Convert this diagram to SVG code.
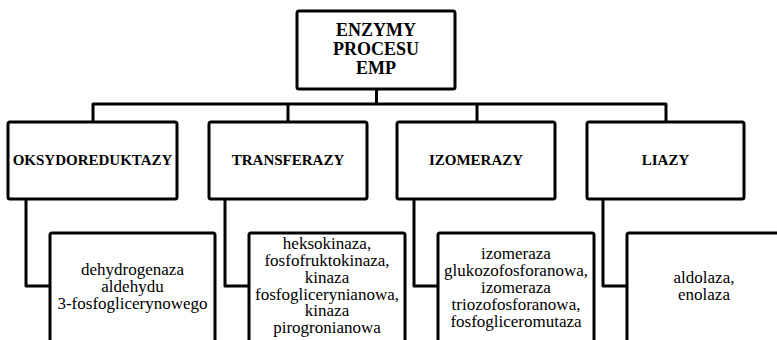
<svg xmlns="http://www.w3.org/2000/svg" width="777" height="340" viewBox="0 0 777 340">
<style>
.box{fill:#fff;stroke:#000;stroke-width:3;stroke-linejoin:round}
.con{fill:none;stroke:#000;stroke-width:3;stroke-linejoin:round}
text{text-anchor:middle;fill:#000}
</style>
<rect width="777" height="340" fill="#fff"/>
<g id="connectors">
<path class="con" d="M376.5,89 V104"/>
<path class="con" d="M93,121 V104 H666 V121"/>
<path class="con" d="M288,104 V121"/>
<path class="con" d="M477,104 V121"/>
<path class="con" d="M26,199 V286 H50"/>
<path class="con" d="M225,199 V286 H249"/>
<path class="con" d="M414,199 V286 H438"/>
<path class="con" d="M603,199 V286 H627"/>
</g>
<g font-family="'Liberation Serif', 'Times New Roman', serif">
<g id="root" font-weight="bold" font-size="18">
<rect class="box" x="297" y="11" width="158" height="78" rx="2"/>
<text x="376" y="36">ENZYMY</text>
<text x="376" y="55">PROCESU</text>
<text x="376" y="74">EMP</text>
</g>
<g id="oksydoreduktazy" font-weight="bold" font-size="15">
<rect class="box" x="8" y="122" width="169" height="77" rx="2"/>
<text x="92.5" y="165">OKSYDOREDUKTAZY</text>
</g>
<g id="transferazy" font-weight="bold" font-size="15">
<rect class="box" x="209" y="122" width="158" height="77" rx="2"/>
<text x="288" y="165">TRANSFERAZY</text>
</g>
<g id="izomerazy" font-weight="bold" font-size="15">
<rect class="box" x="397" y="122" width="158" height="77" rx="2"/>
<text x="476" y="165">IZOMERAZY</text>
</g>
<g id="liazy" font-weight="bold" font-size="15">
<rect class="box" x="587" y="122" width="157" height="77" rx="2"/>
<text x="665.5" y="165">LIAZY</text>
</g>
<g id="oksydoreduktazy-enzymy" font-size="17">
<rect class="box" x="50" y="233" width="165" height="130" rx="2"/>
<text x="132.5" y="275">dehydrogenaza</text>
<text x="132.5" y="292">aldehydu</text>
<text x="132.5" y="309">3-fosfoglicerynowego</text>
</g>
<g id="transferazy-enzymy" font-size="17">
<rect class="box" x="249" y="233" width="156" height="130" rx="2"/>
<text x="327" y="249">heksokinaza,</text>
<text x="327" y="266">fosfofruktokinaza,</text>
<text x="327" y="283">kinaza</text>
<text x="327" y="300">fosfoglicerynianowa,</text>
<text x="327" y="316">kinaza</text>
<text x="327" y="333">pirogronianowa</text>
</g>
<g id="izomerazy-enzymy" font-size="17">
<rect class="box" x="438" y="233" width="156" height="130" rx="2"/>
<text x="516" y="259">izomeraza</text>
<text x="516" y="276">glukozofosforanowa,</text>
<text x="516" y="293">izomeraza</text>
<text x="516" y="310">triozofosforanowa,</text>
<text x="516" y="327">fosfogliceromutaza</text>
</g>
<g id="liazy-enzymy" font-size="17">
<rect class="box" x="627" y="233" width="156" height="130" rx="2"/>
<text x="704" y="283">aldolaza,</text>
<text x="704" y="300">enolaza</text>
</g>
</g>
</svg>
